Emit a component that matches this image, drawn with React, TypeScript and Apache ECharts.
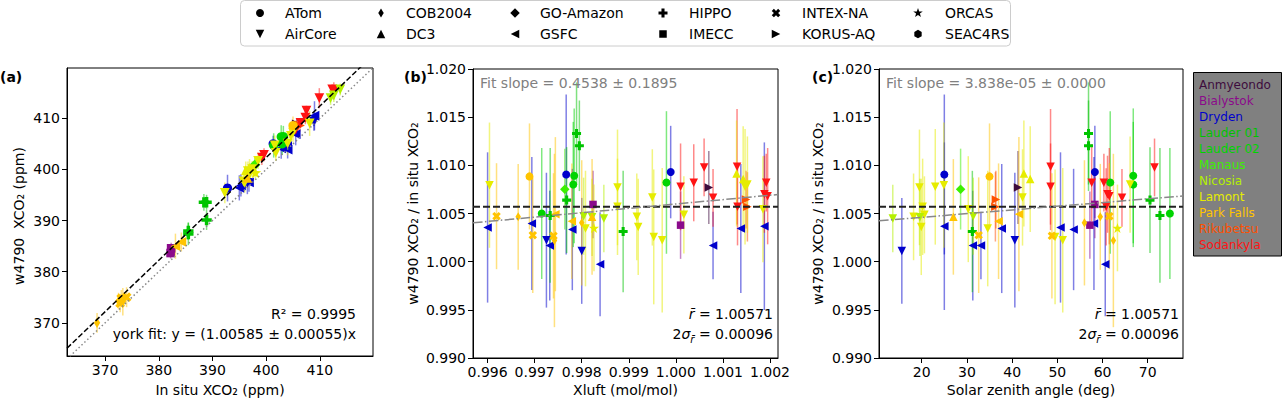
import React, { useEffect, useRef } from 'react';
import * as echarts from 'echarts';

const FONT = 'DejaVu Sans';

const SITES = ['Anmyeondo', 'Bialystok', 'Dryden', 'Lauder 01', 'Lauder 02', 'Manaus', 'Nicosia', 'Lamont', 'Park Falls', 'Rikubetsu', 'Sodankyla'];
const SITE_COLORS = ['#3d0c3d', '#8b0a8b', '#0000cc', '#00c400', '#00d400', '#3cf000', '#b4f000', '#e6ec00', '#ffc400', '#ff5000', '#ff1414'];
const CAMPAIGNS = ['ATom', 'AirCore', 'COB2004', 'DC3', 'GO-Amazon', 'GSFC', 'HIPPO', 'IMECC', 'INTEX-NA', 'KORUS-AQ', 'ORCAS', 'SEAC4RS'];

// one entry per comparison point
const PT_SITE = [2, 2, 2, 2, 2, 2, 2, 2, 2, 2, 2, 2, 3, 3, 3, 3, 3, 4, 4, 4, 4, 5, 1, 1, 0, 9, 9, 10, 10, 10, 10, 10, 10, 10, 10, 10, 7, 6, 7, 6, 7, 7, 7, 7, 7, 7, 7, 7, 7, 7, 7, 6, 7, 7, 7, 8, 8, 8, 8, 8, 8, 8, 8, 8, 8];
const PT_CAMP = [5, 5, 5, 5, 5, 5, 5, 5, 1, 1, 0, 0, 6, 6, 6, 6, 6, 0, 0, 0, 0, 4, 7, 7, 9, 9, 9, 1, 1, 1, 1, 1, 1, 1, 1, 1, 1, 1, 1, 1, 1, 1, 1, 1, 1, 1, 1, 1, 1, 1, 1, 1, 10, 3, 3, 8, 2, 0, 8, 8, 2, 5, 5, 2, 3];
const IN_SITU = [395.0, 395.3, 396.8, 402.8, 404.0, 403.9, 405.5, 409.0, 396.5, 408.9, 392.8, 401.3, 388.4, 388.9, 385.5, 388.9, 385.5, 403.0, 402.8, 403.2, 401.4, 397.9, 382.2, 382.3, 405.7, 405.3, 406.3, 399.2, 399.6, 407.5, 406.4, 409.9, 405.5, 412.3, 407.3, 412.6, 392.3, 412.0, 396.0, 413.8, 396.6, 397.0, 395.8, 401.8, 397.4, 404.0, 408.1, 404.6, 401.6, 405.0, 398.5, 412.6, 398.0, 396.2, 396.9, 373.0, 372.5, 405.0, 372.8, 374.0, 373.3, 383.1, 384.2, 368.5, 396.5];
const RATIO = [1.00355, 1.00396, 1.00167, 1.00334, 0.99973, 1.00167, 1.00344, 1.00368, 1.00223, 1.00112, 1.00905, 1.0093, 1.01331, 1.01203, 1.00639, 1.00313, 1.0048, 1.005, 1.00891, 1.00801, 1.00822, 1.00753, 1.00379, 1.00594, 1.0077, 1.00645, 1.00569, 1.00777, 1.00819, 1.00978, 1.00663, 1.00985, 1.00569, 1.0082, 1.007, 1.0068, 1.00794, 1.00472, 1.00344, 1.00448, 1.00771, 1.00569, 1.00465, 1.00361, 1.00667, 1.00257, 1.00223, 1.00486, 1.00777, 1.00545, 1.008, 1.0046, 1.0035, 1.00916, 1.00857, 1.00472, 1.00465, 1.00885, 1.00275, 1.00268, 1.0022, 1.00493, 1.0042, 1.00403, 1.00465];
const RATIO_ERR = [0.0078, 0.0069, 0.0057, 0.0063, 0.0054, 0.0035, 0.0067, 0.0087, 0.007, 0.0055, 0.0083, 0.0048, 0.0053, 0.0047, 0.0055, 0.0063, 0.007, 0.0068, 0.007, 0.0065, 0.0074, 0.0042, 0.0035, 0.0035, 0.0038, 0.003, 0.0036, 0.0045, 0.004, 0.003, 0.003, 0.006, 0.004, 0.003, 0.004, 0.005, 0.0065, 0.004, 0.006, 0.0035, 0.006, 0.005, 0.0045, 0.005, 0.005, 0.007, 0.0075, 0.004, 0.006, 0.0055, 0.005, 0.004, 0.0045, 0.0055, 0.0055, 0.0055, 0.0055, 0.0055, 0.006, 0.0065, 0.009, 0.008, 0.006, 0.0065, 0.006];
const XLUFT = [0.996, 0.99694, 0.99732, 0.9978, 0.99839, 1.00079, 1.00138, 1.00188, 0.99725, 0.998, 0.99767, 0.99989, 0.99789, 0.99795, 0.99768, 0.99888, 0.99733, 0.99715, 0.99784, 0.99782, 0.9998, 0.99764, 1.0001, 0.99824, 1.0007, 1.00149, 1.00152, 1.0001, 1.00038, 1.0006, 1.00079, 1.0013, 1.00131, 1.00192, 1.00188, 1.00195, 0.99604, 0.99804, 0.99808, 0.99847, 0.99876, 0.99876, 0.99917, 0.9992, 0.9995, 0.99953, 0.99971, 1.00017, 1.00147, 1.00185, 1.00152, 0.99822, 0.99826, 1.00129, 1.00143, 0.99619, 0.99665, 0.99689, 0.99696, 0.9974, 0.99742, 0.99744, 0.99779, 0.998, 0.99822];
const SZA = [50.7, 58.1, 31.3, 53.6, 60.6, 33.1, 37.7, 25.0, 40.6, 15.6, 25.0, 58.3, 56.9, 56.9, 70.5, 31.2, 72.7, 74.9, 66.8, 66.8, 61.7, 28.6, 57.2, 58.3, 41.3, 36.4, 36.3, 48.5, 57.6, 71.5, 64.3, 48.5, 60.8, 60.3, 61.1, 61.5, 24.9, 31.4, 34.6, 13.6, 19.5, 20.2, 18.2, 19.9, 42.3, 49.5, 51.2, 20.6, 23.0, 30.3, 66.1, 19.6, 63.3, 42.6, 44.0, 61.5, 59.5, 35.0, 32.6, 48.8, 62.4, 41.5, 37.0, 56.0, 27.0];

// fit results
const YORK_SLOPE = 1.00585;
const MEAN_RATIO = 1.00571;
const XLUFT_FIT_SLOPE = 0.4538;
const XLUFT_FIT_X0 = 0.99939;
const SZA_FIT_SLOPE = 3.838e-5;
const SZA_FIT_INTERCEPT = 1.003835;

// axes
const A_X = [362.9, 419.9];
const A_Y = [363.5, 419.85];
const B_X = [0.99569, 1.00217];
const C_X = [10.55, 77.8];
const R_Y = [0.99, 1.02];
const A_TICKS = [370, 380, 390, 400, 410];
const XLUFT_TICKS = [0.996, 0.997, 0.998, 0.999, 1.0, 1.001, 1.002];
const SZA_TICKS = [20, 30, 40, 50, 60, 70];
const RATIO_TICKS = [0.99, 0.995, 1.0, 1.005, 1.01, 1.015, 1.02];

// marker geometry (unit box), indexed by campaign
function starPts(n: number, rOut: number, rIn: number) {
  const p: number[][] = [];
  for (let i = 0; i < 2 * n; i++) {
    const a = (-90 + (180 / n) * i) * Math.PI / 180;
    const r = i % 2 === 0 ? rOut : rIn;
    p.push([0.5 + r * Math.cos(a), 0.5 + r * Math.sin(a)]);
  }
  return p;
}
function polyPts(n: number) {
  const p: number[][] = [];
  for (let i = 0; i < n; i++) {
    const a = (-90 + (360 / n) * i) * Math.PI / 180;
    p.push([0.5 + 0.5 * Math.cos(a), 0.5 + 0.5 * Math.sin(a)]);
  }
  return p;
}
const MARKERS: { pts: number[][] | null; w: number; h: number }[] = [
  { pts: null, w: 8, h: 8 },
  { pts: [[0, 0], [1, 0], [0.5, 1]], w: 8.5, h: 8.5 },
  { pts: [[0.5, 0], [1, 0.5], [0.5, 1], [0, 0.5]], w: 5.5, h: 9 },
  { pts: [[0.5, 0], [1, 1], [0, 1]], w: 8.5, h: 8.5 },
  { pts: [[0.5, 0], [1, 0.5], [0.5, 1], [0, 0.5]], w: 9.5, h: 9.5 },
  { pts: [[0, 0.5], [1, 0], [1, 1]], w: 8.5, h: 8.5 },
  { pts: [[0.33, 0], [0.67, 0], [0.67, 0.33], [1, 0.33], [1, 0.67], [0.67, 0.67], [0.67, 1], [0.33, 1], [0.33, 0.67], [0, 0.67], [0, 0.33], [0.33, 0.33]], w: 9, h: 9 },
  { pts: [[0, 0], [1, 0], [1, 1], [0, 1]], w: 7.5, h: 7.5 },
  { pts: [[0, 0.25], [0.25, 0], [0.5, 0.25], [0.75, 0], [1, 0.25], [0.75, 0.5], [1, 0.75], [0.75, 1], [0.5, 0.75], [0.25, 1], [0, 0.75], [0.25, 0.5]], w: 8.5, h: 8.5 },
  { pts: [[0, 0], [1, 0.5], [0, 1]], w: 8.5, h: 8.5 },
  { pts: starPts(5, 0.5, 0.2), w: 10, h: 10 },
  { pts: polyPts(6), w: 8.5, h: 8.5 },
];
const symbolOf = (c: number) => {
  const m = MARKERS[c];
  if (!m.pts) return 'circle';
  return 'path://M' + m.pts.map((p) => `${(p[0] * 100).toFixed(2)},${(p[1] * 100).toFixed(2)}`).join('L') + 'Z';
};

const axisCommon = (ticks: number[], fmt: (v: number) => string) => ({
  type: 'value' as const,
  axisLine: { show: true, onZero: false, lineStyle: { color: '#000', width: 1 } },
  axisTick: { show: true, inside: false, length: 5, lineStyle: { color: '#000', width: 1 }, customValues: ticks },
  axisLabel: { customValues: ticks, formatter: (v: number) => fmt(v), color: '#000', fontSize: 14, fontFamily: FONT, margin: 7 },
  splitLine: { show: false },
});

function errSeries(idx: number, xs: number[], ys: number[], es: number[]) {
  return {
    type: 'custom',
    xAxisIndex: idx,
    yAxisIndex: idx,
    clip: true,
    silent: true,
    z: 2,
    encode: { x: 0, y: 1 },
    data: xs.map((x, i) => [x, ys[i], es[i], PT_SITE[i]]),
    renderItem: (_p: any, api: any) => {
      const x = api.value(0);
      const y = api.value(1);
      const e = api.value(2);
      const s = api.value(3);
      const a = api.coord([x, y - e]);
      const b = api.coord([x, y + e]);
      return {
        type: 'line',
        shape: { x1: a[0], y1: a[1], x2: b[0], y2: b[1] },
        style: { stroke: SITE_COLORS[s], lineWidth: 1.5, opacity: 0.5 },
      };
    },
  };
}

function scatterSeries(idx: number, xs: number[], ys: number[], scale: number) {
  return {
    type: 'scatter',
    xAxisIndex: idx,
    yAxisIndex: idx,
    silent: true,
    z: 3,
    data: xs.map((x, i) => {
      const m = MARKERS[PT_CAMP[i]];
      return {
        value: [x, ys[i]],
        symbol: symbolOf(PT_CAMP[i]),
        symbolSize: [m.w * scale, m.h * scale],
        itemStyle: { color: SITE_COLORS[PT_SITE[i]], opacity: 1 },
      };
    }),
  };
}

function lineSeries(idx: number, pts: number[][], color: string, width: number, dash: number[]) {
  return {
    type: 'line',
    xAxisIndex: idx,
    yAxisIndex: idx,
    silent: true,
    z: 4,
    symbol: 'none',
    data: pts,
    lineStyle: { color, width, type: dash },
  };
}

function buildOption() {
  const W4790 = IN_SITU.map((v, i) => v * RATIO[i]);
  const W4790_ERR = IN_SITU.map((v, i) => v * RATIO_ERR[i] * 0.8);

  const fmt0 = (v: number) => String(Math.round(v));
  const fmt3 = (v: number) => v.toFixed(3);

  const graphics: any[] = [];
  // top legend
  graphics.push({ type: 'rect', shape: { x: 240.5, y: 0.5, width: 770, height: 45.5, r: 4 }, style: { fill: '#fff', stroke: '#cccccc', lineWidth: 1 }, silent: true, z: 5 });
  const LEG_MX = [260, 381, 515, 663, 776, 918];
  const LEG_TX = [285, 406, 540, 689, 802, 945];
  const LEG_Y = [13, 34];
  CAMPAIGNS.forEach((name, c) => {
    const col = Math.floor(c / 2);
    const row = c % 2;
    const cx = LEG_MX[col];
    const cy = LEG_Y[row];
    const m = MARKERS[c];
    if (!m.pts) {
      graphics.push({ type: 'circle', shape: { cx, cy, r: m.w / 2 }, style: { fill: '#000' }, silent: true, z: 6 });
    } else {
      graphics.push({ type: 'polygon', shape: { points: m.pts.map((p) => [cx + (p[0] - 0.5) * m.w, cy + (p[1] - 0.5) * m.h]) }, style: { fill: '#000' }, silent: true, z: 6 });
    }
    graphics.push({ type: 'text', x: LEG_TX[col], y: cy, style: { text: name, font: `14px "${FONT}"`, fill: '#000', align: 'left', verticalAlign: 'middle', textAlign: 'left', textVerticalAlign: 'middle' }, silent: true, z: 6 });
  });
  // site legend
  graphics.push({ type: 'rect', shape: { x: 1193.5, y: 72.5, width: 88, height: 183.5 }, style: { fill: '#808080', stroke: '#000', lineWidth: 1 }, silent: true, z: 5 });
  SITES.forEach((s, i) => {
    graphics.push({ type: 'text', x: 1199, y: 85 + 16 * i, style: { text: s, font: `12px "${FONT}"`, fill: SITE_COLORS[i], align: 'left', verticalAlign: 'middle', textAlign: 'left', textVerticalAlign: 'middle' }, silent: true, z: 6 });
  });
  // panel labels
  const label = (t: string, x: number, y: number) => ({ type: 'text', x, y, style: { text: t, font: `bold 14px "${FONT}"`, fill: '#000', align: 'left', verticalAlign: 'middle', textAlign: 'left', textVerticalAlign: 'middle' }, silent: true, z: 6 });
  graphics.push(label('(a)', 0, 77), label('(b)', 404, 77), label('(c)', 812, 77));
  const plain = (t: string, x: number, y: number, align: string, fill = '#000', rotation = 0) => ({ type: 'text', x, y, rotation, style: { text: t, font: `14px "${FONT}"`, fill, align, verticalAlign: 'middle', textAlign: align, textVerticalAlign: 'middle' }, silent: true, z: 6 });
  // axis titles
  graphics.push(plain('In situ XCO\u2082 (ppm)', 220, 390, 'center'));
  graphics.push(plain('Xluft (mol/mol)', 625.5, 390, 'center'));
  graphics.push(plain('Solar zenith angle (deg)', 1031, 390, 'center'));
  graphics.push(plain('w4790  XCO\u2082 (ppm)', 19, 216, 'center', '#000', Math.PI / 2));
  graphics.push(plain('w4790 XCO\u2082 / in situ XCO\u2082', 413, 213.5, 'center', '#000', Math.PI / 2));
  graphics.push(plain('w4790 XCO\u2082 / in situ XCO\u2082', 818, 213.5, 'center', '#000', Math.PI / 2));
  // annotations
  graphics.push(plain('R\u00b2 = 0.9995', 356, 314, 'right'));
  graphics.push(plain('york fit: y = (1.00585 \u00b1 0.00055)x', 356, 334, 'right'));
  graphics.push(plain('Fit slope = 0.4538 \u00b1 0.1895', 480, 83, 'left', '#808080'));
  graphics.push(plain('Fit slope = 3.838e-05 \u00b1 0.0000', 886, 83, 'left', '#808080'));
  const rich = {
    n: { fontSize: 14, fontFamily: FONT, color: '#000', lineHeight: 20 },
    i: { fontSize: 14, fontFamily: FONT, fontStyle: 'italic', color: '#000', lineHeight: 20 },
    s: { fontSize: 10, fontFamily: FONT, fontStyle: 'italic', color: '#000', lineHeight: 12, verticalAlign: 'bottom' },
  };
  const stat = (rx: number) => [
    { type: 'text', x: rx, y: 314, style: { text: '{i|r\u0304}{n| = 1.00571}', rich, align: 'right', verticalAlign: 'middle', textAlign: 'right', textVerticalAlign: 'middle' }, silent: true, z: 6 },
    { type: 'text', x: rx, y: 334, style: { text: '{n|2}{i|\u03c3}{s|r\u0304}{n| = 0.00096}', rich, align: 'right', verticalAlign: 'middle', textAlign: 'right', textVerticalAlign: 'middle' }, silent: true, z: 6 },
  ];
  graphics.push(...stat(773), ...stat(1179));

  return {
    animation: false,
    backgroundColor: '#fff',
    textStyle: { fontFamily: FONT, fontSize: 14, color: '#000' },
    grid: [
      { left: 67, top: 68, width: 306, height: 288, show: true, borderColor: '#000', borderWidth: 1, backgroundColor: 'transparent' },
      { left: 473, top: 69, width: 305, height: 289, show: true, borderColor: '#000', borderWidth: 1, backgroundColor: 'transparent' },
      { left: 879, top: 69, width: 304, height: 289, show: true, borderColor: '#000', borderWidth: 1, backgroundColor: 'transparent' },
    ],
    xAxis: [
      { ...axisCommon(A_TICKS, fmt0), gridIndex: 0, min: A_X[0], max: A_X[1] },
      { ...axisCommon(XLUFT_TICKS, fmt3), gridIndex: 1, min: B_X[0], max: B_X[1] },
      { ...axisCommon(SZA_TICKS, fmt0), gridIndex: 2, min: C_X[0], max: C_X[1] },
    ],
    yAxis: [
      { ...axisCommon(A_TICKS, fmt0), gridIndex: 0, min: A_Y[0], max: A_Y[1] },
      { ...axisCommon(RATIO_TICKS, fmt3), gridIndex: 1, min: R_Y[0], max: R_Y[1] },
      { ...axisCommon(RATIO_TICKS, fmt3), gridIndex: 2, min: R_Y[0], max: R_Y[1] },
    ],
    series: [
      errSeries(0, IN_SITU, W4790, W4790_ERR),
      scatterSeries(0, IN_SITU, W4790, 1.15),
      lineSeries(0, [[A_X[0], A_X[0]], [A_X[1], A_X[1]]], '#888', 1.5, [1.5, 2.5]),
      lineSeries(0, [[A_X[0], YORK_SLOPE * A_X[0]], [A_X[1], YORK_SLOPE * A_X[1]]], '#000', 1.5, [5.5, 2.4]),

      errSeries(1, XLUFT, RATIO, RATIO_ERR),
      scatterSeries(1, XLUFT, RATIO, 1),
      lineSeries(1, [[B_X[0], MEAN_RATIO], [B_X[1], MEAN_RATIO]], '#222', 2, [7, 3]),
      lineSeries(1, [[B_X[0], MEAN_RATIO + XLUFT_FIT_SLOPE * (B_X[0] - XLUFT_FIT_X0)], [B_X[1], MEAN_RATIO + XLUFT_FIT_SLOPE * (B_X[1] - XLUFT_FIT_X0)]], '#888', 1.5, [9.6, 2.4, 1.5, 2.4]),

      errSeries(2, SZA, RATIO, RATIO_ERR),
      scatterSeries(2, SZA, RATIO, 1),
      lineSeries(2, [[C_X[0], MEAN_RATIO], [C_X[1], MEAN_RATIO]], '#222', 2, [7, 3]),
      lineSeries(2, [[C_X[0], SZA_FIT_INTERCEPT + SZA_FIT_SLOPE * C_X[0]], [C_X[1], SZA_FIT_INTERCEPT + SZA_FIT_SLOPE * C_X[1]]], '#888', 1.5, [9.6, 2.4, 1.5, 2.4]),
    ],
    graphic: graphics,
  };
}

export default function App() {
  const ref = useRef<HTMLDivElement>(null);
  useEffect(() => {
    if (!ref.current) return;
    const chart = echarts.init(ref.current, null, { renderer: 'svg' });
    chart.setOption(buildOption() as any);
    return () => chart.dispose();
  }, []);
  return <div ref={ref} style={{ position: 'fixed', left: 0, top: 0, width: 1283, height: 400, background: '#fff' }} />;
}
